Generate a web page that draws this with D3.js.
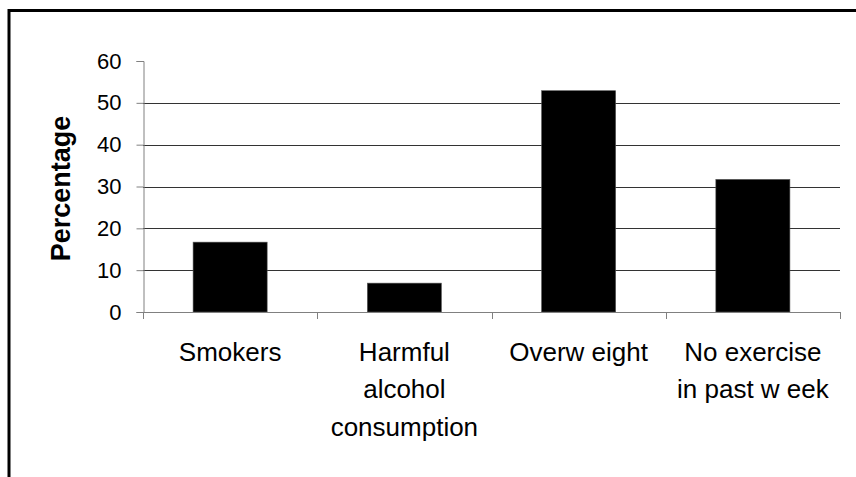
<!DOCTYPE html>
<html>
<head>
<meta charset="utf-8">
<script src="https://cdn.jsdelivr.net/npm/d3@7"></script>
<style>
  html, body { margin: 0; padding: 0; background: #fff; }
  svg { display: block; font-family: Arial, "Liberation Sans", sans-serif; }
</style>
</head>
<body>
<svg id="chart" width="856" height="477"></svg>
<script>
// Lifestyle risk factors, percentage of respondents
const categories = ["Smokers", "Harmful alcohol consumption", "Overweight", "No exercise in past week"];
const categoryLines = [["Smokers"], ["Harmful", "alcohol", "consumption"], ["Overw eight"], ["No exercise", "in past w eek"]];
const percentages = [16.7, 6.9, 52.9, 31.7];
const yTicks = [0, 10, 20, 30, 40, 50, 60];
const yTitle = "Percentage";

const svg = d3.select("#chart");

const plotLeft = 143, plotRight = 840, plotTop = 61, plotBottom = 312;

const x = d3.scaleBand()
  .domain(categories)
  .range([plotLeft, plotRight])
  .paddingInner(0.575)
  .paddingOuter(0.2875)
  .align(0.5);

const y = d3.scaleLinear().domain([0, 60]).range([plotBottom, plotTop]);

// Outer frame (extends past the visible page on the right and bottom)
svg.append("rect")
  .attr("x", 9).attr("y", 10.5)
  .attr("width", 900).attr("height", 500)
  .attr("fill", "none")
  .attr("stroke", "#000")
  .attr("stroke-width", 3);

// Horizontal gridlines
svg.append("g")
  .selectAll("line")
  .data(yTicks.filter(d => d > 0 && d < 60))
  .join("line")
  .attr("x1", plotLeft).attr("x2", plotRight)
  .attr("y1", d => Math.round(y(d)) + 0.5)
  .attr("y2", d => Math.round(y(d)) + 0.5)
  .attr("stroke", "#333")
  .attr("stroke-width", 1);

// Bars
svg.append("g")
  .selectAll("rect")
  .data(categories)
  .join("rect")
  .attr("x", d => x(d))
  .attr("y", (d, i) => y(percentages[i]))
  .attr("width", x.bandwidth())
  .attr("height", (d, i) => y(0) - y(percentages[i]))
  .attr("fill", "#000")
  .attr("stroke", "#555")
  .attr("stroke-width", 0.6);

// Y axis
const yAxis = svg.append("g")
  .attr("transform", `translate(${plotLeft + 0.5},0)`)
  .call(d3.axisLeft(y).tickValues(yTicks).tickSize(7).tickPadding(15).tickFormat(d3.format("d")));
yAxis.select(".domain").attr("stroke", "#808080");
yAxis.selectAll(".tick line").attr("stroke", "#808080");
yAxis.selectAll(".tick text")
  .attr("fill", "#000")
  .attr("font-size", 22)
  .attr("font-family", "Arial, 'Liberation Sans', sans-serif");

// X axis baseline with tick marks at category boundaries
const step = x.step();
const boundaries = d3.range(categories.length + 1).map(i => plotLeft + i * step);
const xAxis = svg.append("g");
xAxis.append("line")
  .attr("x1", plotLeft).attr("x2", plotRight)
  .attr("y1", y(0) + 0.5).attr("y2", y(0) + 0.5)
  .attr("stroke", "#808080");
xAxis.selectAll("line.tick")
  .data(boundaries)
  .join("line")
  .attr("class", "tick")
  .attr("x1", d => Math.round(d) + 0.5).attr("x2", d => Math.round(d) + 0.5)
  .attr("y1", y(0)).attr("y2", y(0) + 7)
  .attr("stroke", "#808080");

// Category labels
const labels = svg.append("g")
  .attr("font-size", 26)
  .attr("text-anchor", "middle")
  .attr("fill", "#000");
categories.forEach((c, i) => {
  const cx = x(c) + x.bandwidth() / 2;
  const t = labels.append("text")
    .attr("x", cx)
    .attr("y", 360.5);
  categoryLines[i].forEach((line, j) => {
    t.append("tspan")
      .attr("x", cx)
      .attr("dy", j === 0 ? 0 : 37.6)
      .text(line);
  });
});

// Y axis title
svg.append("text")
  .attr("transform", `translate(70,${(plotTop + plotBottom) / 2 + 2}) rotate(-90)`)
  .attr("text-anchor", "middle")
  .attr("font-size", 27)
  .attr("font-weight", "bold")
  .attr("fill", "#000")
  .text(yTitle);
</script>
</body>
</html>
